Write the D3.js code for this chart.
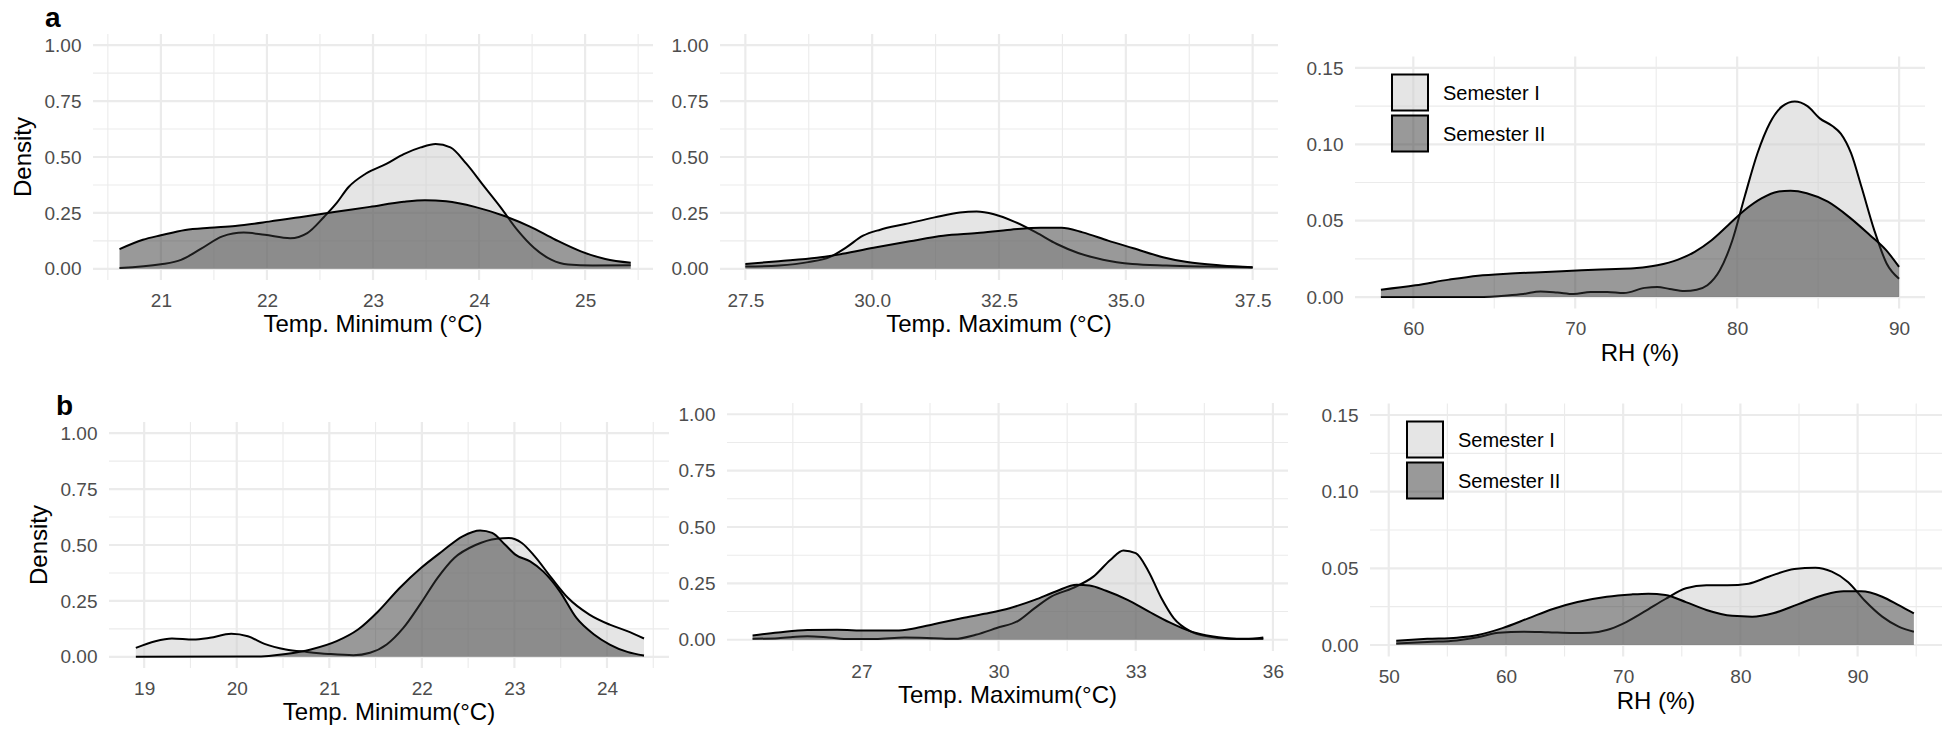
<!DOCTYPE html>
<html>
<head>
<meta charset="utf-8">
<script src="https://cdn.jsdelivr.net/npm/d3@7"></script>
<style>
  body { margin: 0; background: #fff; }
  text { font-family: "Liberation Sans", Arial, sans-serif; }
</style>
</head>
<body>
<div id="chart"></div>
<script>
// legend entries
var semesters = ["Semester I", "Semester II"];
var semesterFill = ["#cccccc", "#333333"];

// y ticks
var densityTicks = [0, 0.25, 0.5, 0.75, 1];
var densityLabels = ["0.00", "0.25", "0.50", "0.75", "1.00"];
var rhDensityTicks = [0, 0.05, 0.1, 0.15];
var rhDensityLabels = ["0.00", "0.05", "0.10", "0.15"];

// x ticks
var aTminTicks = [21, 22, 23, 24, 25];
var aTmaxTicks = [27.5, 30, 32.5, 35, 37.5];
var aTmaxLabels = ["27.5", "30.0", "32.5", "35.0", "37.5"];
var aRhTicks = [60, 70, 80, 90];
var bTminTicks = [19, 20, 21, 22, 23, 24];
var bTmaxTicks = [27, 30, 33, 36];
var bRhTicks = [50, 60, 70, 80, 90];

// density curves: [value, density]
var aTminSemI = [[20.61,0.004],[21.0,0.02],[21.19,0.04],[21.38,0.09],[21.58,0.145],[21.78,0.162],[21.98,0.152],
  [22.22,0.137],[22.38,0.16],[22.54,0.233],[22.65,0.29],[22.77,0.366],[22.93,0.425],[23.13,0.47],[23.29,0.513],
  [23.45,0.543],[23.59,0.558],[23.73,0.543],[23.88,0.47],[24.04,0.373],[24.2,0.277],[24.36,0.174],[24.52,0.093],
  [24.68,0.041],[24.84,0.019],[25.07,0.015],[25.43,0.016]];
var aTminSemII = [[20.61,0.088],[20.83,0.13],[21.0,0.15],[21.23,0.174],[21.46,0.184],[21.7,0.192],[22.02,0.211],
  [22.34,0.233],[22.65,0.255],[22.97,0.277],[23.29,0.3],[23.49,0.307],[23.69,0.302],[23.96,0.277],[24.24,0.236],
  [24.48,0.189],[24.72,0.13],[24.96,0.078],[25.19,0.044],[25.43,0.027]];

var aTmaxSemI = [[27.5,0.01],[28.16,0.015],[28.74,0.03],[29.16,0.052],[29.49,0.096],[29.82,0.148],[30.16,0.175],
  [30.65,0.2],[31.23,0.23],[31.73,0.252],[32.06,0.256],[32.4,0.244],[32.81,0.21],[33.23,0.163],[33.64,0.111],
  [34.06,0.071],[34.55,0.041],[35.13,0.022],[35.8,0.015],[36.63,0.01],[37.5,0.006]];
var aTmaxSemII = [[27.5,0.022],[28.16,0.034],[28.91,0.049],[29.41,0.067],[30.08,0.096],[30.74,0.123],[31.4,0.148],
  [32.07,0.16],[32.73,0.175],[33.32,0.184],[33.73,0.184],[34.15,0.163],[34.65,0.126],[35.15,0.092],[35.73,0.052],
  [36.21,0.03],[36.88,0.015],[37.5,0.007]];

var aRhSemI = [[58,0],[64,0],[65.8,0.001],[66.8,0.002],[67.85,0.0037],[68.9,0.003],[69.9,0.002],[70.95,0.0033],
  [71.98,0.0033],[73.0,0.0026],[74.3,0.006],[75.07,0.0066],[75.84,0.0053],[76.74,0.004],[77.5,0.0048],[78.16,0.0077],
  [78.93,0.0175],[79.7,0.037],[80.47,0.066],[81.25,0.094],[82.02,0.114],[82.8,0.125],[83.56,0.128],[84.34,0.125],
  [85.1,0.117],[85.88,0.112],[86.4,0.107],[87.04,0.094],[87.68,0.072],[88.46,0.044],[89.23,0.022],[90,0.012]];
var aRhSemII = [[58,0.0048],[60.13,0.0077],[62.2,0.0114],[64,0.014],[65.8,0.0153],[67.85,0.0162],[70.4,0.0175],
  [72.5,0.0184],[73.8,0.019],[75.07,0.0208],[76.35,0.0245],[77.38,0.0296],[78.4,0.037],[79.44,0.047],[80.47,0.057],
  [81.5,0.0646],[82.5,0.069],[83.3,0.0696],[84.3,0.068],[85.6,0.0624],[86.9,0.0525],[88.2,0.0405],[89.2,0.0307],
  [90,0.0197]];

var bTminSemI = [[18.91,0.04],[19.12,0.07],[19.3,0.082],[19.53,0.077],[19.71,0.085],[19.94,0.103],[20.12,0.092],
  [20.3,0.058],[20.53,0.033],[20.76,0.022],[20.99,0.013],[21.26,0.007],[21.44,0.018],[21.62,0.055],[21.8,0.129],
  [21.99,0.24],[22.17,0.353],[22.35,0.442],[22.58,0.5],[22.81,0.528],[22.94,0.531],[23.08,0.509],[23.22,0.449],
  [23.4,0.353],[23.58,0.263],[23.81,0.189],[24.03,0.144],[24.22,0.115],[24.4,0.082]];
var bTminSemII = [[18.91,0],[20.17,0.001],[20.53,0.013],[20.8,0.033],[21.08,0.07],[21.31,0.122],[21.53,0.204],
  [21.76,0.308],[21.99,0.397],[22.22,0.472],[22.44,0.539],[22.63,0.565],[22.76,0.554],[22.9,0.501],[23.01,0.457],
  [23.17,0.427],[23.31,0.382],[23.49,0.293],[23.67,0.174],[23.86,0.1],[24.03,0.055],[24.22,0.022],[24.4,0.006]];

var bTmaxSemI = [[24.62,0.004],[25.18,0.007],[25.82,0.015],[26.28,0.01],[26.74,0.003],[27.3,0.003],[27.94,0.01],
  [28.58,0.007],[29.04,0.004],[29.5,0.022],[29.96,0.052],[30.43,0.084],[30.79,0.14],[31.16,0.192],[31.62,0.229],
  [32.08,0.281],[32.45,0.355],[32.73,0.396],[33.0,0.384],[33.28,0.303],[33.56,0.185],[33.83,0.096],[34.2,0.037],
  [34.57,0.015],[35.03,0.004],[35.4,0.003],[35.79,0.01]];
var bTmaxSemII = [[24.62,0.019],[25.18,0.032],[25.82,0.043],[26.47,0.044],[27.11,0.041],[27.76,0.041],[28.12,0.049],
  [28.58,0.069],[29.14,0.093],[29.69,0.115],[30.24,0.14],[30.79,0.177],[31.25,0.214],[31.71,0.244],[31.99,0.241],
  [32.35,0.217],[32.82,0.177],[33.28,0.126],[33.74,0.077],[34.2,0.037],[34.66,0.015],[35.21,0.004],[35.79,0.004]];

var bRhSemI = [[50.64,0.001],[53.3,0.002],[55.8,0.003],[57.6,0.005],[59.36,0.008],[61.5,0.0087],[63.6,0.0083],
  [65.8,0.0078],[67.2,0.008],[68.6,0.0098],[70.0,0.014],[71.8,0.0217],[73.6,0.03],[75.35,0.037],[77.1,0.039],
  [78.9,0.039],[80.7,0.04],[82.4,0.0445],[84.6,0.0496],[86.4,0.0504],[87.8,0.0478],[89.2,0.041],[90.6,0.029],
  [92.1,0.0185],[93.5,0.012],[94.8,0.0087]];
var bRhSemII = [[50.64,0.0028],[53.3,0.004],[55.8,0.0048],[57.6,0.0065],[59.7,0.011],[61.9,0.0174],[64.0,0.0235],
  [66.1,0.028],[68.6,0.0315],[70.7,0.033],[72.15,0.0335],[73.6,0.0326],[75.35,0.028],[77.1,0.0228],[79.3,0.019],
  [81.0,0.0185],[82.8,0.0207],[84.9,0.0265],[87.1,0.0326],[88.8,0.035],[90.3,0.035],[92.1,0.0315],[93.5,0.026],
  [94.8,0.0206]];

var svgWidth = 1944;
var svgHeight = 730;

var svg = d3.select("#chart")
  .append("svg")
  .attr("width", svgWidth)
  .attr("height", svgHeight)
  .style("background", "#fff");

// panel layout (pixels) and scale domains
var panels = [
  { left: 93, right: 653, top: 34, bottom: 280, xdom: [20.36, 25.64], ydom: [-0.05, 1.05],
    xt: aTminTicks, xl: null, yt: densityTicks, yl: densityLabels, s1: aTminSemI, s2: aTminSemII,
    title: "Temp. Minimum (°C)", ytitle: "Density", tag: "a", tagX: 45 },
  { left: 720, right: 1278, top: 34, bottom: 280, xdom: [27.0, 38.0], ydom: [-0.05, 1.05],
    xt: aTmaxTicks, xl: aTmaxLabels, yt: densityTicks, yl: densityLabels, s1: aTmaxSemI, s2: aTmaxSemII,
    title: "Temp. Maximum (°C)" },
  { left: 1355, right: 1925, top: 56.5, bottom: 308.5, xdom: [56.4, 91.6], ydom: [-0.0075, 0.1575],
    xt: aRhTicks, xl: null, yt: rhDensityTicks, yl: rhDensityLabels, s1: aRhSemI, s2: aRhSemII,
    title: "RH (%)", legend: true },
  { left: 109, right: 669, top: 422, bottom: 668, xdom: [18.62, 24.67], ydom: [-0.05, 1.05],
    xt: bTminTicks, xl: null, yt: densityTicks, yl: densityLabels, s1: bTminSemI, s2: bTminSemII,
    title: "Temp. Minimum(°C)", ytitle: "Density", tag: "b", tagX: 56 },
  { left: 727, right: 1288, top: 403, bottom: 651, xdom: [24.06, 36.33], ydom: [-0.05, 1.05],
    xt: bTmaxTicks, xl: null, yt: densityTicks, yl: densityLabels, s1: bTmaxSemI, s2: bTmaxSemII,
    title: "Temp. Maximum(°C)" },
  { left: 1370, right: 1942, top: 403.5, bottom: 656.5, xdom: [48.4, 97.2], ydom: [-0.0075, 0.1575],
    xt: bRhTicks, xl: null, yt: rhDensityTicks, yl: rhDensityLabels, s1: bRhSemI, s2: bRhSemII,
    title: "RH (%)", legend: true }
];

// minor breaks halfway between majors, extended one half step each side
function minorBreaks(ticks, dom) {
  var step = ticks[1] - ticks[0];
  var out = [];
  for (var v = ticks[0] - step / 2; v <= ticks[ticks.length - 1] + step / 2 + 1e-9; v += step) {
    if (v >= dom[0] && v <= dom[1]) out.push(v);
  }
  return out;
}

panels.forEach(function(p) {
  var x = d3.scaleLinear().domain(p.xdom).range([p.left, p.right]);
  var y = d3.scaleLinear().domain(p.ydom).range([p.bottom, p.top]);
  var g = svg.append("g");

  // grid
  var grid = g.append("g").attr("stroke", "#ebebeb").attr("fill", "none");
  minorBreaks(p.xt, p.xdom).forEach(function(v) {
    grid.append("line").attr("x1", x(v)).attr("x2", x(v)).attr("y1", p.top).attr("y2", p.bottom).attr("stroke-width", 1.1);
  });
  minorBreaks(p.yt, p.ydom).forEach(function(v) {
    grid.append("line").attr("y1", y(v)).attr("y2", y(v)).attr("x1", p.left).attr("x2", p.right).attr("stroke-width", 1.1);
  });
  p.xt.forEach(function(v) {
    grid.append("line").attr("x1", x(v)).attr("x2", x(v)).attr("y1", p.top).attr("y2", p.bottom).attr("stroke-width", 2.2);
  });
  p.yt.forEach(function(v) {
    grid.append("line").attr("y1", y(v)).attr("y2", y(v)).attr("x1", p.left).attr("x2", p.right).attr("stroke-width", 2.2);
  });

  // densities
  var area = d3.area().x(d => x(d[0])).y0(y(0)).y1(d => y(d[1])).curve(d3.curveMonotoneX);
  var line = d3.line().x(d => x(d[0])).y(d => y(d[1])).curve(d3.curveMonotoneX);
  [p.s1, p.s2].forEach(function(s, i) {
    g.append("path").datum(s).attr("d", area).attr("fill", semesterFill[i]).attr("fill-opacity", 0.5);
    g.append("path").datum(s).attr("d", line).attr("fill", "none").attr("stroke", "#000")
      .attr("stroke-width", 2).attr("stroke-linejoin", "round");
  });

  // axes
  var xAxis = d3.axisBottom(x).tickValues(p.xt).tickSize(0).tickPadding(13.5)
    .tickFormat((d, i) => p.xl ? p.xl[i] : String(d));
  var yAxis = d3.axisLeft(y).tickValues(p.yt).tickSize(0).tickPadding(11.5)
    .tickFormat((d, i) => p.yl[i]);
  var gx = g.append("g").attr("transform", `translate(0, ${p.bottom})`).call(xAxis);
  var gy = g.append("g").attr("transform", `translate(${p.left}, 0)`).call(yAxis);
  [gx, gy].forEach(function(ax) {
    ax.select(".domain").remove();
    ax.attr("font-family", null).attr("font-size", null);
    ax.selectAll("text").attr("fill", "#4d4d4d").style("font-size", "19px");
  });

  // titles
  g.append("text")
    .attr("x", (p.left + p.right) / 2)
    .attr("y", p.bottom + 52)
    .attr("text-anchor", "middle")
    .style("font-size", "24px")
    .text(p.title);

  if (p.ytitle) {
    g.append("text")
      .attr("transform", `translate(${p.left - 62}, ${(p.top + p.bottom) / 2}) rotate(-90)`)
      .attr("text-anchor", "middle")
      .style("font-size", "24px")
      .text(p.ytitle);
  }

  if (p.tag) {
    g.append("text")
      .attr("x", p.tagX)
      .attr("y", p.top - 7)
      .style("font-size", "28px")
      .style("font-weight", "bold")
      .text(p.tag);
  }

  // legend
  if (p.legend) {
    var lg = g.append("g").attr("transform", `translate(${p.left + 36}, ${p.top + 17})`);
    semesters.forEach(function(name, i) {
      lg.append("rect")
        .attr("x", 1).attr("y", 1 + i * 41)
        .attr("width", 36).attr("height", 36)
        .attr("fill", semesterFill[i]).attr("fill-opacity", 0.5)
        .attr("stroke", "#000").attr("stroke-width", 2);
      lg.append("text")
        .attr("x", 52).attr("y", 19 + i * 41)
        .attr("dy", "0.35em")
        .style("font-size", "20px")
        .text(name);
    });
  }
});
</script>
</body>
</html>
